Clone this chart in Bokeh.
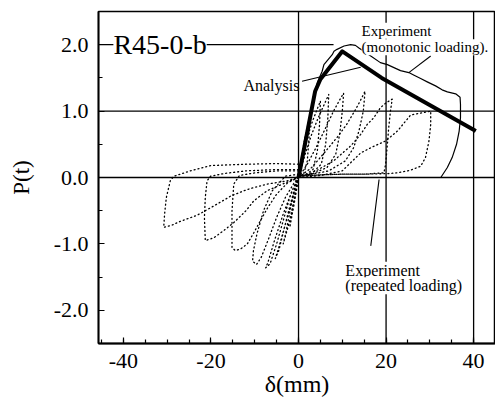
from bokeh.plotting import figure
from bokeh.models import Range1d, FixedTicker, Span, Label
from bokeh.embed import file_html
from bokeh.resources import INLINE

# ---------------- data ----------------
x_ticks = [-40, -20, 0, 20, 40]
x_tick_labels = ["-40", "-20", "0", "20", "40"]
x_minor = [-45, -40, -35, -30, -25, -20, -15, -10, -5, 0, 5, 10, 15, 20, 25, 30, 35, 40, 45]
y_ticks = [-2, -1, 0, 1, 2]
y_tick_labels = ["-2.0", "-1.0", "0.0", "1.0", "2.0"]
y_minor = [-2.5, -2.0, -1.5, -1.0, -0.5, 0.0, 0.5, 1.0, 1.5, 2.0, 2.5]

# Analysis (thick line)
ana_x = [0.0, 3.8, 5.0, 10.0, 19.0, 40.5]
ana_y = [0.0, 1.30, 1.48, 1.90, 1.50, 0.70]

# Experiment, monotonic loading (thin solid)
mono_x = [0.0, 1.5, 3.0, 4.0, 4.3, 5.4, 5.8, 7.7, 8.1, 8.8, 10.4, 11.9, 13.0, 13.8, 16.5,
          18.7, 20.3, 23.3, 25.2, 26.4, 27.9, 29.4, 31.3, 32.8, 34.0, 35.9, 36.9,
          37.0, 37.0, 36.7, 36.1, 35.1, 34.0, 32.5]
mono_y = [0.0, 0.55, 1.05, 1.35, 1.43, 1.60, 1.70, 1.85, 1.90, 1.93, 1.98, 2.00, 1.99, 1.95, 1.83,
          1.73, 1.70, 1.61, 1.58, 1.54, 1.49, 1.44, 1.38, 1.32, 1.29, 1.26, 1.21,
          1.10, 0.90, 0.70, 0.50, 0.30, 0.15, 0.0]

# Experiment, repeated loading (dotted hysteresis loops)
pos_a_x = [0, 0.8, 1.6, 2.5, 2.4, 2.0, 1.2, 0]
pos_a_y = [0, 0.35, 0.65, 0.90, 0.60, 0.25, 0.06, 0.02]
pos_b_x = [0, 1.0, 2.0, 3.2, 4.2, 5.0, 4.8, 4.3, 3.3, 1.5, 0]
pos_b_y = [0, 0.30, 0.60, 0.85, 1.02, 1.15, 0.80, 0.40, 0.12, 0.04, 0.02]
pos_c_x = [0, 1.5, 3.0, 4.5, 6.0, 6.9, 6.7, 6.2, 5.2, 3.0, 0]
pos_c_y = [0, 0.35, 0.65, 0.90, 1.12, 1.25, 0.90, 0.50, 0.20, 0.06, 0.02]
pos_d_x = [0, 2, 4, 6, 8, 9.5, 10.3, 10.0, 9.4, 8.5, 6.5, 3, 0]
pos_d_y = [0, 0.20, 0.45, 0.72, 1.00, 1.18, 1.27, 1.00, 0.65, 0.35, 0.15, 0.05, 0.02]
pos_e_x = [0, 3, 6, 9, 11, 13, 14.3, 15.2, 14.8, 13.8, 12.6, 10.7, 6.9, 3, 0]
pos_e_y = [0, 0.15, 0.38, 0.62, 0.80, 1.02, 1.18, 1.30, 1.00, 0.70, 0.45, 0.25, 0.10, 0.05, 0.02]
pos_f_x = [0, 4, 8, 12, 14.2, 15.7, 17.2, 18.7, 19.9, 21.4, 21.0, 20.6, 20.3, 19.9, 19.5, 15, 10, 5, 0]
pos_f_y = [0, 0.10, 0.25, 0.48, 0.65, 0.80, 0.90, 1.05, 1.12, 1.18, 1.00, 0.75, 0.50, 0.20, 0.07, 0.05, 0.05, 0.04, 0.02]
pos_g_x = [0, 5, 10, 14.2, 17.2, 19.9, 22.6, 24.1, 25.6, 27.9, 30.2, 30.2, 29.8, 29.0, 27.9, 25.6, 22.6, 20.6, 15, 10, 5, 0]
pos_g_y = [0, 0.03, 0.10, 0.37, 0.47, 0.55, 0.70, 0.82, 0.94, 0.97, 1.00, 0.80, 0.55, 0.30, 0.17, 0.11, 0.07, 0.06, 0.05, 0.05, 0.04, 0.02]

neg_a_x = [0, -1, -2, -1.5, -0.5, 0]
neg_a_y = [0, -0.40, -0.75, -0.50, -0.15, 0]
neg_b_x = [0, -1, -2.2, -3.5, -2.8, -1.8, -0.6, 0]
neg_b_y = [0, -0.35, -0.70, -1.00, -0.80, -0.45, -0.10, 0]
neg_c_x = [0, -1.5, -3, -4.5, -5.3, -4.5, -3.2, -1.8, -0.5, 0]
neg_c_y = [0, -0.35, -0.70, -1.05, -1.22, -1.10, -0.75, -0.38, -0.08, 0]
neg_d_x = [0, -1.5, -3.5, -5.5, -7, -7.5, -6.5, -5, -3.5, -2, -0.7, 0]
neg_d_y = [0, -0.20, -0.55, -0.95, -1.28, -1.36, -1.30, -1.00, -0.65, -0.30, -0.08, 0]
neg_e_x = [0, -3, -6, -8, -9.5, -10.3, -10.5, -9.6, -8.5, -7, -5, -3, -1, 0]
neg_e_y = [0.05, 0.02, -0.20, -0.50, -0.85, -1.10, -1.26, -1.31, -1.20, -0.95, -0.60, -0.30, -0.08, 0]
neg_f_x = [0, -5, -10, -13.5, -14.8, -15.2, -15.2, -14.4, -13.3, -11.7, -10.2, -8.7, -7, -5, -2.5, 0]
neg_f_y = [0.10, 0.10, 0.07, 0.03, -0.10, -0.50, -1.06, -1.10, -1.08, -1.00, -0.83, -0.65, -0.45, -0.25, -0.08, 0]
neg_g_x = [0, -5, -12, -17, -20.1, -20.9, -21.3, -21.5, -21.3, -19.4, -17.1, -14.8, -12, -10.2, -7.2, -2.6, 0]
neg_g_y = [0.12, 0.12, 0.10, 0.06, 0.02, -0.05, -0.30, -0.60, -0.95, -0.91, -0.80, -0.68, -0.50, -0.35, -0.20, -0.07, 0]
neg_h_x = [0, -5, -12, -20, -24.7, -27, -28.5, -29.3, -30.2, -30.6, -30.8, -29, -27, -23.2, -19.4, -15.5, -11.7, -7.2, -2.6, 0]
neg_h_y = [0.20, 0.21, 0.20, 0.18, 0.10, 0.05, 0.02, -0.05, -0.30, -0.55, -0.75, -0.72, -0.66, -0.57, -0.43, -0.28, -0.18, -0.10, -0.05, 0]

rep_xs = [pos_a_x, pos_b_x, pos_c_x, pos_d_x, pos_e_x, pos_f_x, pos_g_x,
          neg_a_x, neg_b_x, neg_c_x, neg_d_x, neg_e_x, neg_f_x, neg_g_x, neg_h_x]
rep_ys = [pos_a_y, pos_b_y, pos_c_y, pos_d_y, pos_e_y, pos_f_y, pos_g_y,
          neg_a_y, neg_b_y, neg_c_y, neg_d_y, neg_e_y, neg_f_y, neg_g_y, neg_h_y]

# reference (grid) lines
v_lines = [0, 20, 40]
h_lines = [0, 1]

# ---------------- figure ----------------
FONT = "Liberation Serif"
p = figure(width=495, height=412,
           x_range=Range1d(-45.7, 45.0), y_range=Range1d(-2.5, 2.5),
           output_backend="svg", toolbar_location=None,
           min_border_left=98, min_border_right=0, min_border_top=11, min_border_bottom=69)
p.xgrid.visible = False
p.ygrid.visible = False
p.outline_line_color = "black"
p.outline_line_width = 1.5
p.background_fill_color = "white"
p.border_fill_color = "white"

for ax, tk, mn, lb in ((p.xaxis[0], x_ticks, x_minor, x_tick_labels),
                       (p.yaxis[0], y_ticks, y_minor, y_tick_labels)):
    ax.ticker = FixedTicker(ticks=tk, minor_ticks=mn)
    ax.major_label_overrides = {t: l for t, l in zip(tk, lb)}
    ax.axis_line_width = 1.8
    ax.axis_line_color = "black"
    ax.major_tick_in = 6
    ax.major_tick_out = 0
    ax.minor_tick_in = 4
    ax.minor_tick_out = 0
    ax.major_tick_line_color = "black"
    ax.minor_tick_line_color = "black"
    ax.major_tick_line_width = 1.2
    ax.minor_tick_line_width = 1.2
    ax.major_label_text_font = FONT
    ax.major_label_text_font_size = "22px"
    ax.major_label_text_color = "black"
    ax.axis_label_text_font = FONT
    ax.axis_label_text_font_style = "normal"
    ax.axis_label_text_color = "black"

p.xaxis.axis_label = "δ(mm)"
p.xaxis.axis_label_text_font_size = "24px"
p.xaxis.major_label_standoff = 10
p.xaxis.axis_label_standoff = 0
p.yaxis.axis_label = "P(t)"
p.yaxis.axis_label_text_font_size = "23px"
p.yaxis.major_label_standoff = 10
p.yaxis.axis_label_standoff = 17

for v in v_lines:
    p.add_layout(Span(location=v, dimension="height", line_color="black", line_width=1.3))
for h in h_lines:
    p.add_layout(Span(location=h, dimension="width", line_color="black", line_width=1.3))
# partial line at 2.0
p.line([-45.7, 8.0], [2.0, 2.0], line_color="black", line_width=1.3)

# dotted repeated loading loops
p.multi_line(rep_xs, rep_ys, line_color="black", line_width=1.3,
             line_dash="1 3", line_cap="round", line_join="round")

# monotonic experiment
p.line(mono_x, mono_y, line_color="black", line_width=1.2, line_join="round")

# analysis
p.line(ana_x, ana_y, line_color="black", line_width=4, line_join="round")

# leader lines
p.segment(x0=[0.8, 30.2, 16.5], y0=[1.45, 1.83, -1.03],
          x1=[14.2, 25.2, 18.4], y1=[1.66, 1.58, -0.03],
          line_color="black", line_width=1.1)

# labels
def lab(x, y, t, size="16px", bg=None):
    L = Label(x=x, y=y, text=t, text_font=FONT, text_font_size=size,
              text_color="black", text_baseline="alphabetic")
    if bg:
        L.background_fill_color = bg
    p.add_layout(L)

lab(-42.3, 2.0, "R45-0-b", size="28px", bg="white")
lab(-12.6, 1.38, "Analysis")
lab(14.4, 2.21, "Experiment", size="15px", bg="white")
lab(14.4, 1.96, "(monotonic loading).", size="15px", bg="white")
lab(10.7, -1.395, "Experiment", bg="white")
lab(10.7, -1.63, "(repeated loading)", bg="white")

open("out.html", "w").write(file_html(p, INLINE))
